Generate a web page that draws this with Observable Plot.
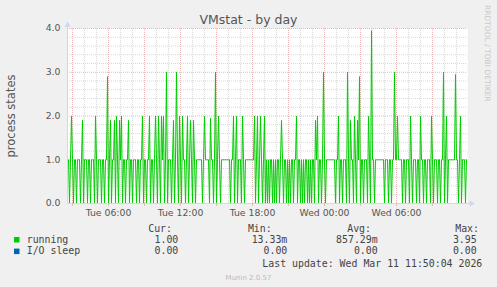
<!DOCTYPE html>
<html>
<head>
<meta charset="utf-8">
<script src="https://cdn.jsdelivr.net/npm/d3@7"></script>
<script src="https://cdn.jsdelivr.net/npm/@observablehq/plot@0.6"></script>
<style>
html,body{margin:0;padding:0;background:#f0f0f0;}
#chart{position:relative;width:497px;height:287px;background:#f0f0f0;overflow:hidden;}
#chart > svg{position:absolute;left:0;top:0;}
</style>
</head>
<body>
<div id="chart"></div>
<script>
// ---------- data ----------
const startTime = Date.UTC(2026, 2, 10, 2, 35); // Tue 10 Mar 2026 02:35, first sample
const stepMinutes = 5;
const running = [
  1,1,0,1,2,1,0,1,1,0,1,1,1,0,1,1.9,0,1,1,1,
  0,1,1,0,1,1,1,0,2,1,0,1,1,1,0,1,1,0,1,1,
  2.9,0,1,1.9,0,1,1,1.9,0,2,1,0,1.9,1,2,0,1,1,0,1,
  1,1.9,0,1,1,0,1,1,1,0,1,1,0,1,1,2,0,1,1,0,
  1,1,2,0,1,1,0,1,2,1,0,2,1,0,2,1,2,0,1,3,
  0,1,1,1,0,1,1.9,0,1,3,1,0,2,1,0,2,1,1,0,1,
  2,0,1,1.9,1,0,1.9,1,0,1,1,1,1,1,1,0,1,2,1,1,
  1,1,0,1.95,1,1,0,1,3,0,1,2,1,0,1,1,1,1,1,1,
  1,1,1,0,1,1,2,0,1,2,0,1,1,1,0,2,1,0,1,1,
  1,1,1,1,1,1,1,2,0,1,2,0,1,2,1,0,1,2,0,1,
  0,1,0,1,1,0,1,0,1,0,1,1,0,1,1.9,1,0,1,1,0,
  1,0,1,0,1,1,0,1,1,2,0,1,1,0,1,0,1,0,1,1,
  0,1,0,1,0,1,1,0,1.9,1,2,0,1,1,0,1,3,1,0,1,
  1,1,1,1,1,1,1,1,0,1,1,2,0,1,1,0,1,1,1,0,
  3,1,0,1.9,1,1,0,2,1,0,1.9,1,2.9,0,1,1,0,1,1,1,
  0,2,1,0,3.95,1,1,0,1,1,1,1,1,1,1,1,1,0,1,1,
  1,0,1,1,0,1,1,3,1,1,2,1,1,1,1,0,1,1,0,1,
  1,1,0,2,1,0,1,1,1,0,1,1,0,2,1,1,0,1,1,0,
  1,1,1,0,2,1,0,1,1,1,0,1,1,0,1,1,3,0,1,2,
  0,1,1,1,1,1,1,1,2.95,1,1,0,1,2,0,1,1,1,0,1
];
const ioSleepValues = [0, 0]; // flat at 0.00 over the whole period

const xTickTimes = [
  Date.UTC(2026, 2, 10, 6), Date.UTC(2026, 2, 10, 12), Date.UTC(2026, 2, 10, 18),
  Date.UTC(2026, 2, 11, 0), Date.UTC(2026, 2, 11, 6)
];
const xTickLabels = ["Tue 06:00", "Tue 12:00", "Tue 18:00", "Wed 00:00", "Wed 06:00"];
const yTickValues = [0, 1, 2, 3, 4];
const yTickLabels = ["0.0", "1.0", "2.0", "3.0", "4.0"];

const seriesNames = ["running", "I/O sleep"];
const seriesColors = ["#00cc00", "#0066b3"];
const curValues = ["1.00", "0.00"];
const minValues = ["13.33m", "0.00"];
const avgValues = ["857.29m", "0.00"];
const maxValues = ["3.95", "0.00"];
const legendHeaders = ["Cur:", "Min:", "Avg:", "Max:"];

const titleText = "VMstat - by day";
const yLabelText = "process states";
const lastUpdateText = "Last update: Wed Mar 11 11:50:04 2026";
const footerText = "Munin 2.0.57";
const sideText = "RRDTOOL / TOBI OETIKER";

// ---------- build ----------
const stepMs = stepMinutes * 60000;
const t0 = new Date(startTime);
const t1 = new Date(startTime + running.length * stepMs);
const runData = running.map((v, i) => ({t: new Date(startTime + i * stepMs), v}));
const ioData = [
  {t: t0, v: ioSleepValues[0]},
  {t: new Date(startTime + (running.length - 1) * stepMs), v: ioSleepValues[1]}
];
const hourMinor = d3.utcHour.range(t0, t1);
const hourMajor = d3.utcHour.every(3).range(t0, t1);
const yMinor = d3.range(1, 20).map(k => k / 5).filter(v => Math.abs(v - Math.round(v)) > 1e-9);
const yMajor = [1, 2, 3, 4];
const xTicks = xTickTimes.map(d => new Date(d));

const axisColor = "#cfd6f8";
const minorColor = "#d9d9d9";
const majorColor = "#e6b8b8";
const textColor = "#555";

const plot = Plot.plot({
  width: 497,
  height: 287,
  marginLeft: 67,
  marginRight: 30,
  marginTop: 28,
  marginBottom: 84,
  style: {background: "transparent", fontFamily: "DejaVu Sans", fontSize: "9.3px", color: textColor, overflow: "visible"},
  x: {type: "utc", domain: [t0, t1]},
  y: {domain: [0, 4]},
  marks: [
    Plot.frame({fill: "white", stroke: "none"}),
    Plot.ruleY(yMinor, {stroke: minorColor, strokeDasharray: "1,1"}),
    Plot.ruleX(hourMinor, {stroke: minorColor, strokeDasharray: "1,1"}),
    Plot.ruleY(yMajor, {stroke: majorColor, strokeDasharray: "1,1"}),
    Plot.ruleX(hourMajor, {stroke: majorColor, strokeDasharray: "1,1"}),
    Plot.line(ioData, {x: "t", y: "v", stroke: seriesColors[1], strokeWidth: 1}),
    Plot.line(runData, {x: "t", y: "v", stroke: seriesColors[0], strokeWidth: 1}),
    Plot.ruleX([t0], {stroke: axisColor, insetTop: -6}),
    Plot.ruleY([0], {stroke: axisColor, insetRight: -5}),
    Plot.dot([t0], {x: d => d, frameAnchor: "top", dy: -3.5, symbol: "triangle", r: 2.3, fill: axisColor, stroke: null}),
    Plot.dot([0], {y: d => d, frameAnchor: "right", dx: 4, symbol: "triangle", rotate: 90, r: 2.3, fill: axisColor, stroke: null}),
    Plot.axisX({ticks: hourMajor, tickSize: 3, tickFormat: () => "", stroke: majorColor, label: null}),
    Plot.axisX({ticks: xTicks, tickFormat: d => xTickLabels[xTicks.findIndex(t => +t === +d)], tickSize: 0, tickPadding: 6, label: null}),
    Plot.axisY({ticks: yTickValues, tickFormat: d => yTickLabels[yTickValues.indexOf(d)], tickSize: 0, tickPadding: 7, label: null}),
    Plot.text([yLabelText], {frameAnchor: "left", textAnchor: "middle", dx: -56, rotate: -90, fontSize: 11.5, fill: textColor})
  ]
});

const chart = document.getElementById("chart");
chart.appendChild(plot);

// ---------- title, legend and footer texts ----------
const over = d3.select(chart).append("svg")
  .attr("width", 497).attr("height", 287)
  .style("position", "absolute").style("left", 0).style("top", 0);

over.append("text").attr("x", 248.5).attr("y", 24).attr("text-anchor", "middle")
  .attr("font-family", "DejaVu Sans").attr("font-size", 12.5).attr("fill", textColor).text(titleText);

over.append("text").attr("transform", "translate(484.5,5) rotate(90)")
  .attr("font-family", "DejaVu Sans").attr("font-size", 7.5).attr("fill", "#c8c8c8").text(sideText);

const mono = "DejaVu Sans Mono";
const legendFont = 9.9;
const legendColor = "#444";
const headerEnds = [172, 271.7, 371, 479];
const valueEnds = [178.3, 287.3, 377.7, 476.7];
const rowBaselines = [243, 254.4];
const swatchTops = [237, 248.6];

legendHeaders.forEach((h, j) => {
  over.append("text").attr("x", headerEnds[j]).attr("y", 232).attr("text-anchor", "end")
    .attr("font-family", mono).attr("font-size", legendFont).attr("fill", legendColor).text(h);
});
seriesNames.forEach((name, i) => {
  over.append("rect").attr("x", 14).attr("y", swatchTops[i]).attr("width", 5.5).attr("height", 5.5)
    .attr("fill", seriesColors[i]);
  over.append("text").attr("x", 26.7).attr("y", rowBaselines[i])
    .attr("font-family", mono).attr("font-size", legendFont).attr("fill", legendColor).text(name);
  [curValues[i], minValues[i], avgValues[i], maxValues[i]].forEach((val, j) => {
    over.append("text").attr("x", valueEnds[j]).attr("y", rowBaselines[i]).attr("text-anchor", "end")
      .attr("font-family", mono).attr("font-size", legendFont).attr("fill", legendColor).text(val);
  });
});
over.append("text").attr("x", 482.3).attr("y", 267.2).attr("text-anchor", "end")
  .attr("font-family", mono).attr("font-size", legendFont).attr("fill", legendColor).text(lastUpdateText);
over.append("text").attr("x", 248.5).attr("y", 280).attr("text-anchor", "middle")
  .attr("font-family", "DejaVu Sans").attr("font-size", 7).attr("fill", "#bbbbbb").text(footerText);
</script>
</body>
</html>
